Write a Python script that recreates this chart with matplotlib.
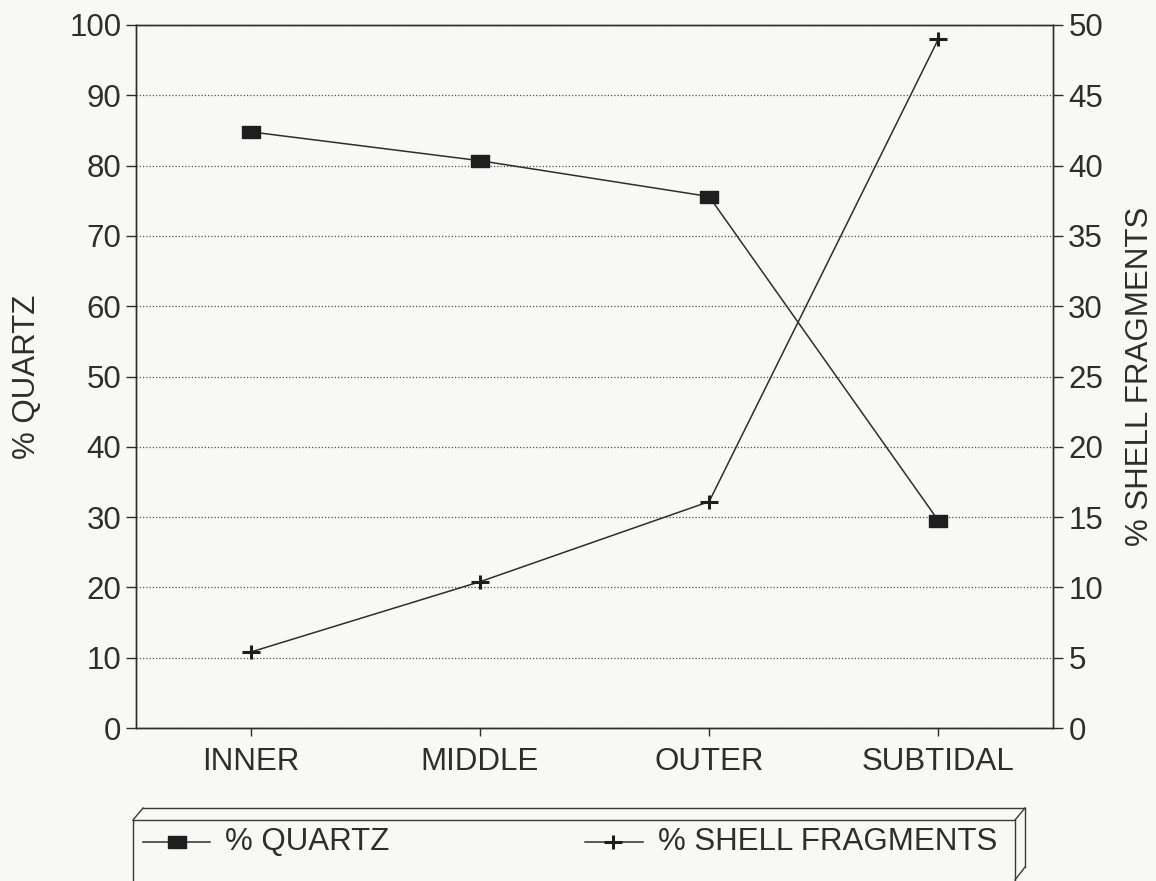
import matplotlib
matplotlib.use("Agg")
import matplotlib.pyplot as plt
from matplotlib.path import Path
from matplotlib.lines import Line2D

# Sediment composition along the beach profile
zones = ["INNER", "MIDDLE", "OUTER", "SUBTIDAL"]
quartz_pct = [84.8, 80.7, 75.6, 29.5]
shell_pct = [5.4, 10.4, 16.1, 49.0]

left_ticks = list(range(0, 101, 10))
right_ticks = list(range(0, 51, 5))

plt.rcParams["font.family"] = ["Liberation Sans", "DejaVu Sans"]
INK = "#2e2e2e"
FS = 22.5

W, H = 1156, 881
fig = plt.figure(figsize=(W / 100, H / 100), dpi=100, facecolor="#f8f8f7")


def fx(x):
    return x / W


def fy(y):
    return 1 - y / H


ax_l, ax_t, ax_r, ax_b = 136, 25, 1053, 728
ax = fig.add_axes([fx(ax_l), fy(ax_b), (ax_r - ax_l) / W, (ax_b - ax_t) / H])
ax.set_facecolor("none")
ax2 = ax.twinx()

# marker shapes: slightly wide square and a wide plus
rect_marker = Path([(-1, -0.68), (1, -0.68), (1, 0.68), (-1, 0.68), (-1, -0.68)],
                   [Path.MOVETO, Path.LINETO, Path.LINETO, Path.LINETO, Path.CLOSEPOLY])
plus_marker = Path([(-1, 0), (1, 0), (0, -0.7), (0, 0.7)],
                   [Path.MOVETO, Path.LINETO, Path.MOVETO, Path.LINETO])

x = list(range(len(zones)))
ax.plot(x, quartz_pct, color=INK, lw=1.1, marker=rect_marker, markersize=12.5,
        markerfacecolor="#1e1e1e", markeredgecolor="#1e1e1e", zorder=3)
ax2.plot(x, shell_pct, color=INK, lw=1.1, marker=plus_marker, markersize=13.5,
         markeredgewidth=2.2, markeredgecolor="#1e1e1e", zorder=3)

ax.set_xlim(-0.5, len(zones) - 0.5)
ax.set_ylim(0, 100)
ax2.set_ylim(0, 50)
ax.set_yticks(left_ticks)
ax2.set_yticks(right_ticks)
ax.set_xticks(x)
ax.set_xticklabels(zones)

ax.yaxis.grid(True, linestyle=(0, (1, 1.6)), color="#555555", lw=0.9)
ax.set_axisbelow(True)

for a in (ax, ax2):
    for s in a.spines.values():
        s.set_color(INK)
        s.set_linewidth(1.0)
ax.tick_params(axis="y", direction="out", length=7.5, width=1.0, color=INK,
               labelsize=FS, labelcolor=INK, pad=3)
ax2.tick_params(axis="y", direction="out", length=7, width=1.0, color=INK,
                labelsize=FS, labelcolor=INK, pad=4)
ax.tick_params(axis="x", direction="out", length=6, width=1.0, color=INK,
               labelsize=FS, labelcolor=INK, pad=8)

ax.set_ylabel("% QUARTZ", fontsize=FS, color=INK, labelpad=20)
ax2.set_ylabel("% SHELL FRAGMENTS", fontsize=FS, color=INK, labelpad=16)

# legend drawn as a raised box below the plot
def seg(x0, y0, x1, y1, lw=1.0):
    fig.add_artist(Line2D([fx(x0), fx(x1)], [fy(y0), fy(y1)], transform=fig.transFigure,
                          color="#3a3a3a", lw=lw))

L, R, T, B = 133, 1015, 820, 884
d = 10
seg(L, T, R, T)
seg(L, T, L, B)
seg(R, T, R, B)
seg(L, T, L + d, T - 12)
seg(L + d, T - 12, R + d, T - 12)
seg(R, T, R + d, T - 12)
seg(R + d, T - 12, R + d, 867)
seg(R + d, 867, R, 880)

ly = 842
fig.add_artist(Line2D([fx(143), fx(210)], [fy(ly), fy(ly)], transform=fig.transFigure,
                      color=INK, lw=1.1))
fig.add_artist(Line2D([fx(177)], [fy(ly)], transform=fig.transFigure, linestyle="none",
                      marker=rect_marker, markersize=12.5, markerfacecolor="#1e1e1e",
                      markeredgecolor="#1e1e1e"))
fig.text(fx(225), fy(ly), "% QUARTZ", fontsize=FS, color=INK, va="center", ha="left")

fig.add_artist(Line2D([fx(585), fx(643)], [fy(ly), fy(ly)], transform=fig.transFigure,
                      color=INK, lw=1.1))
fig.add_artist(Line2D([fx(613)], [fy(ly)], transform=fig.transFigure, linestyle="none",
                      marker=plus_marker, markersize=13.5, markeredgewidth=2.2,
                      markeredgecolor="#1e1e1e"))
fig.text(fx(658), fy(ly), "% SHELL FRAGMENTS", fontsize=FS, color=INK, va="center", ha="left")

fig.savefig("out.png", dpi=100, facecolor=fig.get_facecolor())
